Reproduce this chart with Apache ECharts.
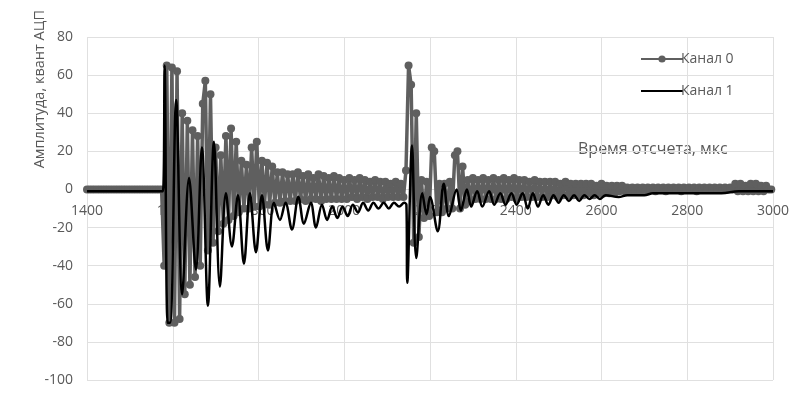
<!DOCTYPE html>
<html><head><meta charset="utf-8">
<script src="https://cdn.jsdelivr.net/npm/echarts@6/dist/echarts.min.js"></script>
<style>html,body{margin:0;padding:0;background:#fff}#c{width:793px;height:393px}</style>
</head><body><div id="c"></div>
<script>
// Axis ranges / ticks
const xMin = 1400, xMax = 3000, xStep = 200;
const yMin = -100, yMax = 80, yStep = 20;

const ch0Start = 1400;
const ch0Step = 6;
const ch0Values = [
  0,0,0,0,0,0,0,0,0,0, 0,0,0,0,0,0,0,0,0,0, 0,0,0,0,0,0,0,0,0,0,
  -40,65,-70,64,-70, 62,-68,40,-55,36, -50,31,-46,28,-40, 45,57,-32,50,-28,
  22,-22,18,-18,28, -16,32,-14,25,-12, 15,-10,13,-10,22, -9,25,-9,15,-8,
  14,-8,12,-7,9, -7,9,-6,8,-6,
  8,-6,9,-5,7,-6,8,-5,6,-5, 8,-6,7,-5,6,-5,7,-5,6,-5,
  5,-5,6,-4,5,-5,6,-4,5,-5, 4,-4,5,-4,4,-5,4,-4,3,-4, 4,-4,3,-4,10,
  65,55,-28,40,-25, 5,-15,4,-14,22, 20,-12,3,-12,3, -10,4,-10,18,20, -10,12,-8,5,-6,
  6,-5,5,-5,6,-5,5,-5,6,-5, 5,-5,6,-5,5,-4,6,-5,5,-4,
  5,-4,4,-4,5,-4,4,-4,4,-4, 4,-3,4,-4,3,-3,4,-3,3,-3,
  3,-3,3,-3,3,-2,3,-3,2,-2, 3,-2,2,-2,2,-2,2,-1,2,-1,
  1,-1,1,-1,1,-1,1,-1,1,0, 1,-1,1,0,1,-1,1,0,1,0,
  1,-1,1,0,1,0,1,-1,1,0, 1,0,1,0,1,0,1,0,1,0,
  1,0,3,-1,3,-1,2,-1,3,-1, 3,-1,2,-1,2,0,0
];

// Канал 1: times (µs) and amplitudes of turning points
const ch1Times = [
  1400,1577,1581,1588,1594,1608,1622,1638,1654,1668,1682,1696,1710,1724,1738,1752,1766,1780,1794,1808,
  1822,1836,1850,1863,1878,1893,1906,1922,1934,1948,1960,1972,1984,1996,2008,2020,2032,2044,2056,2068,
  2080,2092,2104,2116,2128,2140,2145,2147,2158,2168,2182,2192,2200,2218,2232,2244,2262,2272,2286,2296,
  2310,2322,2338,2350,2364,2376,2390,2402,2416,2428,2440,2452,2464,2476,2488,2500,2512,2524,2536,2548,
  2560,2572,2584,2596,2610,2640,2660,2700,2720,2800,2880,2920,3000
];
const ch1Values = [
  -1,-1,65,-70,-70,47,-55,6,-42,22,-61,25,-51,-2,-30,-3,-39,-2,-33,-3,
  -32,-7,-16,-7,-21,-4,-18,-7,-20,-8,-16,-9,-15,-9,-14,-8,-12,-7,-11,-7,
  -10,-7,-10,-7,-9,-7,-8,-49,23,-36,-2,-13,-4,-22,3,-14,0,-11,0,-9,
  -1,-9,-1,-8,-2,-8,-2,-8,-2,-10,-2,-9,-3,-8,-3,-7,-3,-6,-3,-6,
  -3,-5,-3,-5,-3,-4,-3,-3,-2,-2,-2,-1,-1
];

const seriesNames = ['Канал 0', 'Канал 1'];
const yAxisTitle = 'Амплитуда, квант АЦП';
const xAxisTitle = 'Время отсчета, мкс';

const ch0Data = ch0Values.map((v, i) => [ch0Start + i * ch0Step, v]);
const ch1Data = ch1Values.map((v, i) => [ch1Times[i], v]);

const FONT = 'Open Sans';
const GRAY = '#5f5f5f';
const chart = echarts.init(document.getElementById('c'), null, {renderer: 'canvas'});
chart.setOption({
  animation: false,
  backgroundColor: '#fff',
  grid: {left: 87, right: 20, top: 37, bottom: 13},
  legend: {
    orient: 'vertical', left: 635, top: 47,
    itemWidth: 42, itemHeight: 9, itemGap: 18,
    lineStyle: {width: 2},
    textStyle: {fontFamily: FONT, fontSize: 14, color: '#595959', padding: [0, 0, 0, -7]},
    data: [
      {name: seriesNames[0]},
      {name: seriesNames[1], itemStyle: {opacity: 0}}
    ]
  },
  xAxis: {
    type: 'value', min: xMin, max: xMax, interval: xStep,
    offset: -191,
    axisLine: {show: true, onZero: false, lineStyle: {color: '#d9d9d9'}},
    axisTick: {show: false},
    axisLabel: {fontFamily: FONT, fontSize: 14, color: '#595959', margin: 15,
                formatter: v => String(v)},
    splitLine: {show: true, lineStyle: {color: '#e0e0e0'}}
  },
  yAxis: {
    type: 'value', min: yMin, max: yMax, interval: yStep,
    axisLine: {show: false}, axisTick: {show: false},
    axisLabel: {fontFamily: FONT, fontSize: 14, color: '#595959', margin: 14},
    splitLine: {show: true, lineStyle: {color: '#e0e0e0'}}
  },
  graphic: [
    {type: 'text', left: 32, top: 10, rotation: Math.PI / 2,
     style: {text: yAxisTitle, fontFamily: FONT, fontSize: 14.5, fill: '#595959'}},
    {type: 'text', left: 578, top: 141,
     style: {text: xAxisTitle, fontFamily: FONT, fontSize: 16, fill: '#595959'}}
  ],
  series: [
    {name: seriesNames[0], type: 'line', data: ch0Data, showAllSymbol: true,
     symbol: 'circle', symbolSize: 8,
     itemStyle: {color: GRAY}, lineStyle: {color: GRAY, width: 3.5}, z: 2},
    {name: seriesNames[1], type: 'line', data: ch1Data, symbol: 'none', smooth: 0.35,
     itemStyle: {color: '#000'}, lineStyle: {color: '#000', width: 2.5}, z: 3}
  ]
});
</script></body></html>
